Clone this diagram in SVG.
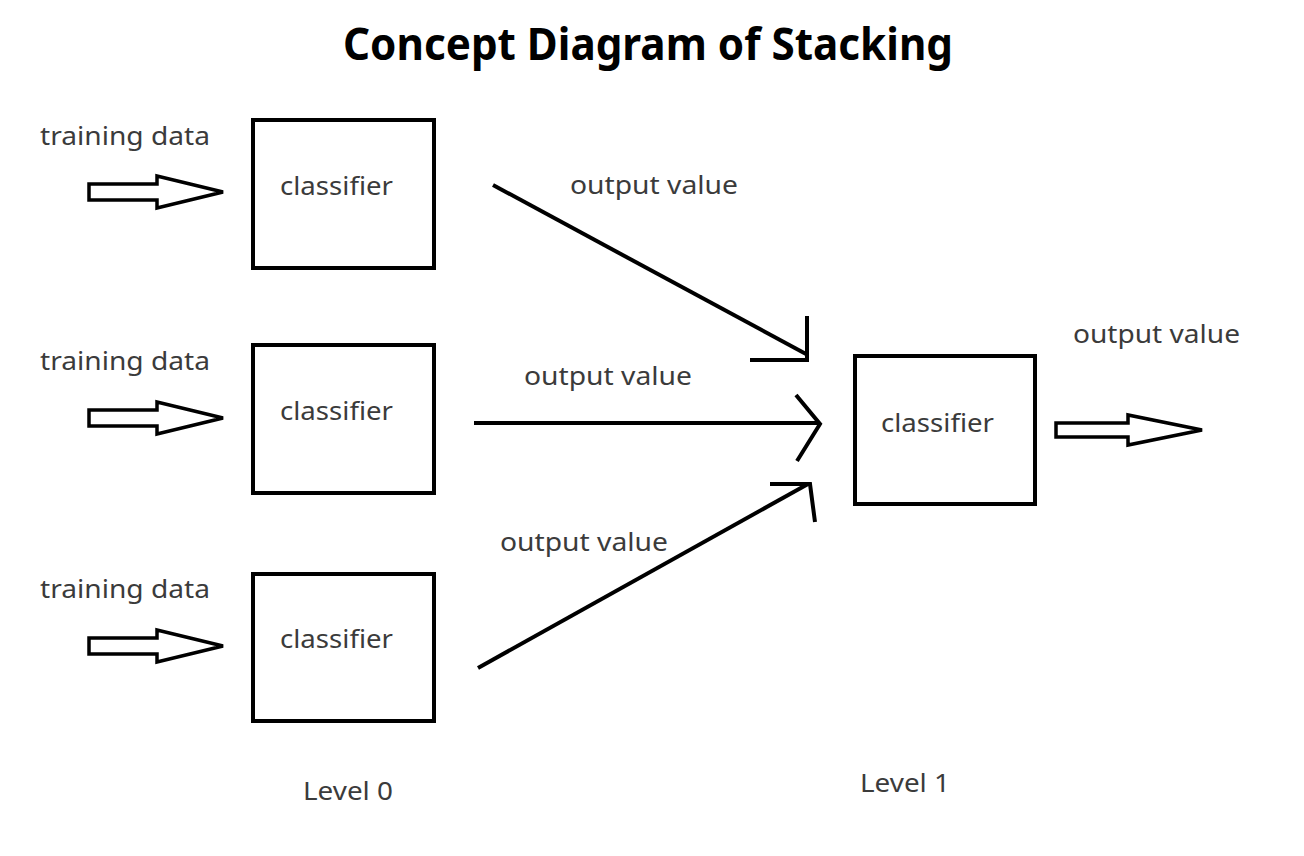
<svg xmlns="http://www.w3.org/2000/svg" width="1304" height="856" viewBox="0 0 1304 856">
<style>
.lbl{font-family:"Noto Sans","Open Sans","Liberation Sans",sans-serif;font-size:25px;fill:#3b3b3b}
.title{font-family:"Noto Sans","Open Sans","Liberation Sans",sans-serif;font-size:44px;font-weight:bold;fill:#000}
.box{fill:#fff;stroke:#000;stroke-width:4}
.hollow{fill:#fff;stroke:#000;stroke-width:3.5;stroke-linejoin:miter}
.ln{fill:none;stroke:#000;stroke-width:4;stroke-linecap:butt}
</style>
<rect width="1304" height="856" fill="#fff"/>
<text class="title" x="343" y="60" textLength="610" lengthAdjust="spacingAndGlyphs">Concept Diagram of Stacking</text>

<g id="input1">
<text class="lbl" x="40" y="145" textLength="170" lengthAdjust="spacingAndGlyphs">training data</text>
<path class="hollow" d="M89,184 H157 V176 L223,192 L157,208 V200 H89 Z"/>
</g>
<g id="input2">
<text class="lbl" x="40" y="370" textLength="170" lengthAdjust="spacingAndGlyphs">training data</text>
<path class="hollow" d="M89,410 H157 V402 L223,418 L157,434 V426 H89 Z"/>
</g>
<g id="input3">
<text class="lbl" x="40" y="598" textLength="170" lengthAdjust="spacingAndGlyphs">training data</text>
<path class="hollow" d="M89,638 H157 V630 L223,646 L157,662 V654 H89 Z"/>
</g>

<g id="classifier1">
<rect class="box" x="253" y="120" width="181" height="148"/>
<text class="lbl" x="280" y="195" textLength="113" lengthAdjust="spacingAndGlyphs">classifier</text>
</g>
<g id="classifier2">
<rect class="box" x="253" y="345" width="181" height="148"/>
<text class="lbl" x="280" y="420" textLength="113" lengthAdjust="spacingAndGlyphs">classifier</text>
</g>
<g id="classifier3">
<rect class="box" x="253" y="574" width="181" height="147"/>
<text class="lbl" x="280" y="648" textLength="113" lengthAdjust="spacingAndGlyphs">classifier</text>
</g>
<g id="classifier-level1">
<rect class="box" x="855" y="356" width="180" height="148"/>
<text class="lbl" x="881" y="432" textLength="113" lengthAdjust="spacingAndGlyphs">classifier</text>
</g>

<g id="connectors">
<path class="ln" d="M493,185 L806,354"/>
<path class="ln" d="M807,316 V360 H750"/>
<text class="lbl" x="570" y="194" textLength="168" lengthAdjust="spacingAndGlyphs">output value</text>

<path class="ln" d="M474,423 H820"/>
<path class="ln" d="M796,395 L820,424 L797,461"/>
<text class="lbl" x="524" y="385" textLength="168" lengthAdjust="spacingAndGlyphs">output value</text>

<path class="ln" d="M478,668 L808,484"/>
<path class="ln" d="M770,484 H810 L815,522"/>
<text class="lbl" x="500" y="551" textLength="168" lengthAdjust="spacingAndGlyphs">output value</text>

<path class="hollow" d="M1056,423 H1128 V415 L1202,430 L1128,445 V437 H1056 Z"/>
<text class="lbl" x="1073" y="343" textLength="167" lengthAdjust="spacingAndGlyphs">output value</text>
</g>

<text class="lbl" x="303" y="800" textLength="90" lengthAdjust="spacingAndGlyphs">Level 0</text>
<text class="lbl" x="860" y="792" textLength="90" lengthAdjust="spacingAndGlyphs">Level 1</text>
</svg>
